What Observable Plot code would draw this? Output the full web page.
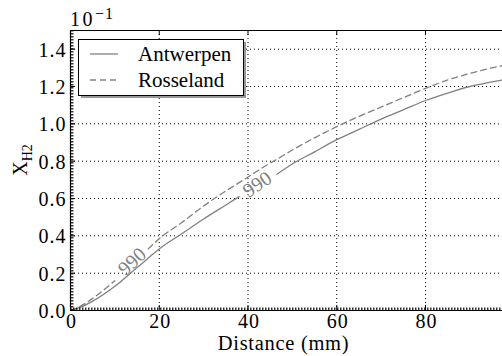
<!DOCTYPE html>
<html><head><meta charset="utf-8">
<script src="https://cdn.jsdelivr.net/npm/d3@7"></script>
<script src="https://cdn.jsdelivr.net/npm/@observablehq/plot@0.6"></script>
<style>
html,body{margin:0;padding:0;background:#fff;}
#chart{position:relative;width:502px;height:356px;}
</style></head><body><div id="chart"></div>
<script>
// ---- data ----
const distance  = [0, 2, 5, 10, 15, 17.5, 20, 25, 30, 35, 38, 40, 45, 46.5, 50, 55, 60, 65, 70, 75, 80, 85, 90, 95, 98];
const antwerpen = [0, 0.015, 0.05, 0.13, 0.23, 0.28, 0.33, 0.41, 0.49, 0.565, 0.61, 0.64, 0.71, 0.73, 0.785, 0.85, 0.915, 0.97, 1.025, 1.075, 1.125, 1.165, 1.2, 1.225, 1.237];
const rosseland = [0, 0.02, 0.065, 0.16, 0.275, 0.33, 0.385, 0.47, 0.56, 0.64, 0.685, 0.715, 0.79, 0.81, 0.86, 0.925, 0.985, 1.04, 1.09, 1.14, 1.19, 1.235, 1.27, 1.3, 1.315];
const seriesNames = ["Antwerpen", "Rosseland"];
const antwerpenGap = [38, 46.5];   // contour label interrupts the solid line
const rosselandGap = [10, 17.5];   // contour label interrupts the dashed line
const contourText = ["990", "990"];
const contourX = [13.9, 42.1];
const contourY = [0.262, 0.675];
const contourAngle = [-43, -34];
const xTicks = [0, 20, 40, 60, 80];
const yTicks = [0, 0.2, 0.4, 0.6, 0.8, 1.0, 1.2, 1.4];
const xDomain = [0, 97.35];
const yDomain = [0, 1.5];
const xLabel = "Distance (mm)";
const yLabelMain = "X";
const yLabelSub = "H2";
const offsetBase = "10";
const offsetExp = "\u22121";

function segmentRows(values, gap, name) {
  const rows = [];
  distance.forEach((x, i) => {
    const seg = x <= gap[0] ? 0 : (x >= gap[1] ? 1 : -1);
    if (seg >= 0) rows.push({x, y: values[i], key: name + seg});
  });
  return rows;
}
const antRows = segmentRows(antwerpen, antwerpenGap, seriesNames[0]);
const rosRows = segmentRows(rosseland, rosselandGap, seriesNames[1]);
const labels = contourText.map((t, i) => ({t, x: contourX[i], y: contourY[i], a: contourAngle[i]}));

const FONT = "Liberation Serif";
const GRAY = "#808080";

const plot = Plot.plot({
  width: 502, height: 356,
  marginLeft: 70, marginRight: 0, marginTop: 30, marginBottom: 46,
  style: {fontFamily: FONT, fontSize: "20px", background: "#fff", color: "#000", overflow: "visible"},
  x: {domain: xDomain, label: null},
  y: {domain: yDomain, label: null},
  marks: [
    Plot.gridX(xTicks, {stroke: "#000", strokeOpacity: 1, strokeWidth: 1, strokeDasharray: "1,3"}),
    Plot.gridY(yTicks, {stroke: "#000", strokeOpacity: 1, strokeWidth: 1, strokeDasharray: "1,3"}),
    Plot.line(rosRows, {x: "x", y: "y", z: "key", stroke: GRAY, strokeWidth: 1.3, strokeDasharray: "6,4", curve: "monotone-x", clip: true}),
    Plot.line(antRows, {x: "x", y: "y", z: "key", stroke: GRAY, strokeWidth: 1.3, curve: "monotone-x", clip: true}),
    Plot.text(labels, {x: "x", y: "y", text: "t", rotate: "a", fill: GRAY, fontSize: 20, fontFamily: FONT, textAnchor: "middle", lineAnchor: "middle"}),
    // spines
    Plot.ruleY([yDomain[1]], {stroke: "#000", strokeWidth: 1.2}),
    Plot.ruleY([0], {stroke: "#000", strokeWidth: 1.2}),
    Plot.ruleY([0], {stroke: "#000", strokeWidth: 3, dy: -1.5, strokeDasharray: "1.5,1.5", strokeOpacity: 0.8}),
    Plot.ruleX([0], {stroke: "#000", strokeWidth: 1.2}),
    Plot.ruleX([0], {stroke: "#000", strokeWidth: 3, dx: 1.5, strokeDasharray: "1.5,1.5", strokeOpacity: 0.8}),
    // inward major ticks
    Plot.tickX(xTicks, {x: d => d, insetTop: 275, stroke: "#000"}),
    Plot.tickX(xTicks, {x: d => d, insetBottom: 275, stroke: "#000"}),
    Plot.tickY(yTicks, {y: d => d, insetRight: 427, stroke: "#000"}),
    Plot.axisX({ticks: xTicks, tickSize: 0, tickPadding: 3, fontSize: 20, fontFamily: FONT, label: null, dx: 1}),
    Plot.axisY({ticks: yTicks, tickSize: 0, tickPadding: 4, fontSize: 20, fontFamily: FONT, tickFormat: d3.format(".1f"), label: null, dy: 1, dx: 0}),
    Plot.text([xLabel], {frameAnchor: "bottom", dy: 39, dx: -3, lineAnchor: "bottom", fontSize: 20.5, fontFamily: FONT, fill: "#000"})
  ]
});

const svg = d3.select(plot);
// offset text 10^-1
const off = svg.append("text").attr("x", 70).attr("y", 26).attr("text-anchor", "start")
  .attr("font-size", 20).attr("fill", "#000").style("letter-spacing", "2.5px");
off.append("tspan").text(offsetBase);
off.append("tspan").attr("dy", -7).attr("font-size", 16).style("letter-spacing", "1px").text(offsetExp);

// y label with subscript
const yl = svg.append("text").attr("transform", "translate(27,160) rotate(-90)").attr("text-anchor", "middle")
  .attr("font-size", 20).attr("fill", "#000");
yl.append("tspan").text(yLabelMain);
yl.append("tspan").attr("dy", 5).attr("font-size", 14).text(yLabelSub);

// legend
const lg = svg.append("g");
lg.append("rect").attr("x", 81).attr("y", 42).attr("width", 165).attr("height", 56).attr("fill", "#999");
lg.append("rect").attr("x", 78.5).attr("y", 39.5).attr("width", 165).attr("height", 56).attr("fill", "#fff").attr("stroke", "#000").attr("stroke-width", 1);
const items = [{name: seriesNames[0], dash: null, y: 54}, {name: seriesNames[1], dash: "6,4", y: 80}];
items.forEach(it => {
  lg.append("line").attr("x1", 90).attr("x2", 118).attr("y1", it.y).attr("y2", it.y)
    .attr("stroke", GRAY).attr("stroke-width", 1.3).attr("stroke-dasharray", it.dash);
  lg.append("text").attr("x", 138).attr("y", it.y + 7).attr("text-anchor", "start")
    .attr("font-size", 21).attr("fill", "#000").text(it.name);
});

svg.selectAll("text, tspan").style("font-family", "'Liberation Serif', 'Times New Roman', serif");
// tick labels in the reference are set a little wider than Times
svg.selectAll('g[aria-label="x-axis tick label"] text, g[aria-label="y-axis tick label"] text').style("letter-spacing", "1px");
svg.selectAll('g[aria-label="text"] text').filter(function() { return this.textContent === xLabel; }).style("letter-spacing", "0.7px");

document.getElementById("chart").appendChild(plot);
</script></body></html>
